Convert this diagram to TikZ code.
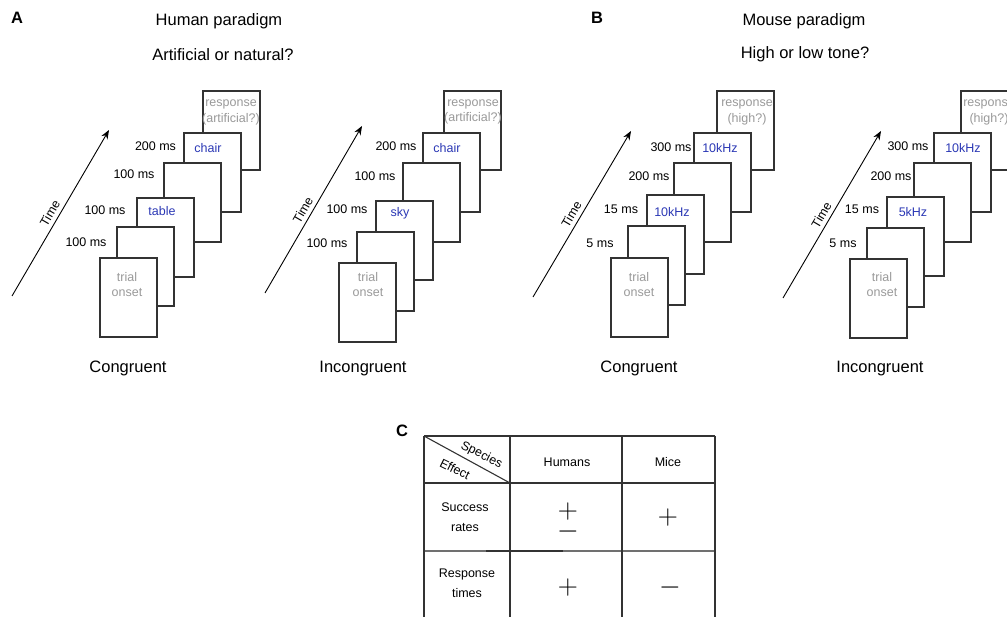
\documentclass[tikz,border=0pt]{standalone}
\usepackage[no-math]{fontspec}
\setmainfont{Liberation Sans}
\usetikzlibrary{arrows.meta}
\definecolor{cueblue}{HTML}{2B38B5}
\definecolor{soft}{HTML}{9A9A9A}
\definecolor{ink}{HTML}{333333}

\tikzset{
  card/.style={draw=ink, line width=1.8pt, fill=white, minimum width=57pt,
    minimum height=79pt, inner sep=0pt, anchor=north west},
  txt/.style={inner sep=0pt, text height=9pt, text depth=0pt,
    font=\fontsize{12.5}{15}\selectfont},
  cuetxt/.style={txt, text=cueblue},
  info/.style={txt, text=soft},
  big/.style={inner sep=0pt, text height=11.9pt, text depth=0pt,
    font=\fontsize{16.5}{20}\selectfont},
  panel/.style={big, font=\fontsize{16.5}{20}\selectfont\bfseries},
  timeaxis/.style={line width=0.9pt, -{Stealth[length=9pt,width=7pt]}},
  grid/.style={draw=ink, line width=1.6pt},
  sign/.style={inner sep=0pt, font=\fontsize{25}{25}\selectfont,
    transform shape, scale=1.12},
}

\begin{document}
\begin{tikzpicture}[x=1pt, y=-1pt]
\useasboundingbox (0,0) rectangle (1007,617);
\clip (0,0) rectangle (1007,617);

% ---------- panel headings ----------
\node[panel] (hA) at (17,18) {A};
\node[big] (tA1) at (219,20) {Human paradigm};
\node[big] (tA2) at (223,55) {Artificial or natural?};
\node[panel] (hB) at (597,18) {B};
\node[big] (tB1) at (804,20) {Mouse paradigm};
\node[big] (tB2) at (805,53) {High or low tone?};

% ---------- A, congruent ----------
\coordinate (ac0) at (12,296); \coordinate (ac1) at (109,130);
\draw[timeaxis] (ac0) -- (ac1) node[pos=0.47, sloped, above=4pt, txt] (acT) {Time};
\node[card] (ac6) at (202,90) {};
\node[card] (ac5) at (183,132) {};
\node[card] (ac4) at (163,162) {};
\node[card] (ac3) at (136,197) {};
\node[card] (ac2) at (116,226) {};
\node[card] (ac1c) at (99,257) {};
\node[info] (acR1) at (231,102) {response};
\node[info] (acR2) at (231,118) {(artificial?)};
\node[cuetxt] (acW2) at (208,148) {chair};
\node[cuetxt] (acW1) at (162,211) {table};
\node[info] (acO1) at (127,277) {trial};
\node[info] (acO2) at (127,292) {onset};
\node[txt] (acD4) at (155.5,146) {200 ms};
\node[txt] (acD3) at (134,174) {100 ms};
\node[txt] (acD2) at (105,210) {100 ms};
\node[txt] (acD1) at (86,242) {100 ms};
\node[big] (acL) at (128,367) {Congruent};

% ---------- A, incongruent ----------
\coordinate (ai0) at (265,293); \coordinate (ai1) at (362,126);
\draw[timeaxis] (ai0) -- (ai1) node[pos=0.47, sloped, above=4pt, txt] (aiT) {Time};
\node[card] (ai6) at (443,90) {};
\node[card] (ai5) at (422,132) {};
\node[card] (ai4) at (402,162) {};
\node[card] (ai3) at (375,200) {};
\node[card] (ai2) at (356,231) {};
\node[card] (ai1c) at (338,262) {};
\node[info] (aiR1) at (473,102) {response};
\node[info] (aiR2) at (473,117) {(artificial?)};
\node[cuetxt] (aiW2) at (447,148) {chair};
\node[cuetxt] (aiW1) at (400,212) {sky};
\node[info] (aiO1) at (368,277) {trial};
\node[info] (aiO2) at (368,292) {onset};
\node[txt] (aiD4) at (396,146) {200 ms};
\node[txt] (aiD3) at (375,176) {100 ms};
\node[txt] (aiD2) at (347,209) {100 ms};
\node[txt] (aiD1) at (327,243) {100 ms};
\node[big] (aiL) at (363,367) {Incongruent};

% ---------- B, congruent ----------
\coordinate (bc0) at (533,297); \coordinate (bc1) at (631,131);
\draw[timeaxis] (bc0) -- (bc1) node[pos=0.47, sloped, above=4pt, txt] (bcT) {Time};
\node[card] (bc6) at (716,90) {};
\node[card] (bc5) at (693,132) {};
\node[card] (bc4) at (673,162) {};
\node[card] (bc3) at (646,194) {};
\node[card] (bc2) at (627,225) {};
\node[card] (bc1c) at (610,257) {};
\node[info] (bcR1) at (747,102) {response};
\node[info] (bcR2) at (747,118) {(high?)};
\node[cuetxt] (bcW2) at (720,148) {10kHz};
\node[cuetxt] (bcW1) at (672,212) {10kHz};
\node[info] (bcO1) at (639,277) {trial};
\node[info] (bcO2) at (639,292) {onset};
\node[txt] (bcD4) at (671,147) {300 ms};
\node[txt] (bcD3) at (649,176) {200 ms};
\node[txt] (bcD2) at (621,209) {15 ms};
\node[txt] (bcD1) at (600,243) {5 ms};
\node[big] (bcL) at (639,367) {Congruent};

% ---------- B, incongruent ----------
\coordinate (bi0) at (783,298); \coordinate (bi1) at (881,131);
\draw[timeaxis] (bi0) -- (bi1) node[pos=0.47, sloped, above=4pt, txt] (biT) {Time};
\node[card] (bi6) at (960,90) {};
\node[card] (bi5) at (933,132) {};
\node[card] (bi4) at (913,162) {};
\node[card] (bi3) at (886,196) {};
\node[card] (bi2) at (866,227) {};
\node[card] (bi1c) at (849,258) {};
\node[info] (biR1) at (989,102) {response};
\node[info] (biR2) at (989,118) {(high?)};
\node[cuetxt] (biW2) at (963,148) {10kHz};
\node[cuetxt] (biW1) at (913,212) {5kHz};
\node[info] (biO1) at (882,277) {trial};
\node[info] (biO2) at (882,292) {onset};
\node[txt] (biD4) at (908,146) {300 ms};
\node[txt] (biD3) at (891,176) {200 ms};
\node[txt] (biD2) at (862,209) {15 ms};
\node[txt] (biD1) at (843,243) {5 ms};
\node[big] (biL) at (880,367) {Incongruent};

% ---------- C, summary table ----------
\node[panel] (hC) at (402,431) {C};
\draw[grid] (424,436) -- (715,436);
\draw[grid] (424,483) -- (715,483);
\draw[ink!70, line width=1.6pt] (424,551) -- (715,551);
\draw[ink, line width=1.6pt] (486,551) -- (563,551);
\draw[grid] (424,436) -- (424,620);
\draw[grid] (510,436) -- (510,620);
\draw[grid] (622,436) -- (622,620);
\draw[grid] (715,436) -- (715,620);
\draw[ink, line width=1.1pt] (424,436) -- (510,483);
\node[txt, rotate=-26] (cS) at (482,454) {Species};
\node[txt, rotate=-26] (cE) at (455,469) {Effect};
\node[txt] (cH) at (567,462) {Humans};
\node[txt] (cM) at (668,462) {Mice};
\node[txt] (cR1a) at (465,507) {Success};
\node[txt] (cR1b) at (465,527) {rates};
\node[txt] (cR2a) at (467,573) {Response};
\node[txt] (cR2b) at (467,593) {times};
\node[sign] (sHp) at (568,512) {$+$};
\node[sign] (sHm) at (568,532) {$-$};
\node[sign] (sMp) at (668,518) {$+$};
\node[sign] (sHt) at (568,588) {$+$};
\node[sign] (sMt) at (670,588) {$-$};
\end{tikzpicture}
\end{document}
